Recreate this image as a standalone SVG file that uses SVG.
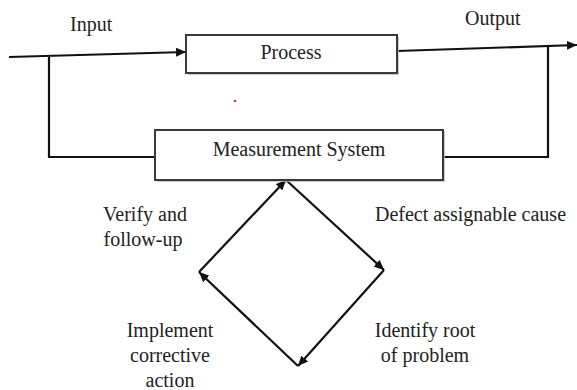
<svg xmlns="http://www.w3.org/2000/svg" width="577" height="390" viewBox="0 0 577 390">
<style>
.box{fill:#fff;stroke:#3a3a3a;stroke-width:2}
.shadow{fill:none;stroke:#bbb;stroke-width:1.5}
.ln{fill:none;stroke:#111;stroke-width:2.2}
text{font-family:'Liberation Serif','Times New Roman',serif;font-size:20px;fill:#222}
.c{text-anchor:middle}
</style>
<defs>
<marker id="ah" markerUnits="userSpaceOnUse" markerWidth="12" markerHeight="10" refX="10" refY="5" orient="auto">
<path d="M0,0.5 L10,5 L0,9.5 Z" fill="#111"/>
</marker>
</defs>
<rect width="577" height="390" fill="#fff"/>
<g id="connectors">
<path class="ln" d="M9,57 L186,52" marker-end="url(#ah)"/>
<path class="ln" d="M49,57 L49,157 L155,157"/>
<path class="ln" d="M397,51 L577,45" marker-end="url(#ah)"/>
<path class="ln" d="M548,46 L548,157 L443,157"/>
<path class="ln" d="M199,272 L286,180" marker-end="url(#ah)"/>
<path class="ln" d="M286,180 L384,270" marker-end="url(#ah)"/>
<path class="ln" d="M384,270 L298,366" marker-end="url(#ah)"/>
<path class="ln" d="M298,366 L199,272" marker-end="url(#ah)"/>
</g>
<g id="process">
<path class="shadow" d="M188,74 L398,74 L398,36"/>
<rect class="box" x="186" y="35" width="211" height="38"/>
<text class="c" x="291" y="59">Process</text>
</g>
<g id="measurement">
<path class="shadow" d="M157,181 L444,181 L444,131"/>
<rect class="box" x="155" y="130" width="288" height="50"/>
<text class="c" x="299" y="156">Measurement System</text>
</g>
<g id="labels">
<text x="70" y="31">Input</text>
<text x="465" y="25">Output</text>
<text class="c" x="145" y="221">Verify and</text>
<text class="c" x="143" y="246">follow-up</text>
<text x="375" y="221">Defect assignable cause</text>
<text class="c" x="170" y="337">Implement</text>
<text class="c" x="170" y="362">corrective</text>
<text class="c" x="170" y="387">action</text>
<text class="c" x="425" y="337">Identify root</text>
<text class="c" x="425" y="362">of problem</text>
</g>
<circle cx="235" cy="101" r="1.3" fill="#e33"/>
</svg>
